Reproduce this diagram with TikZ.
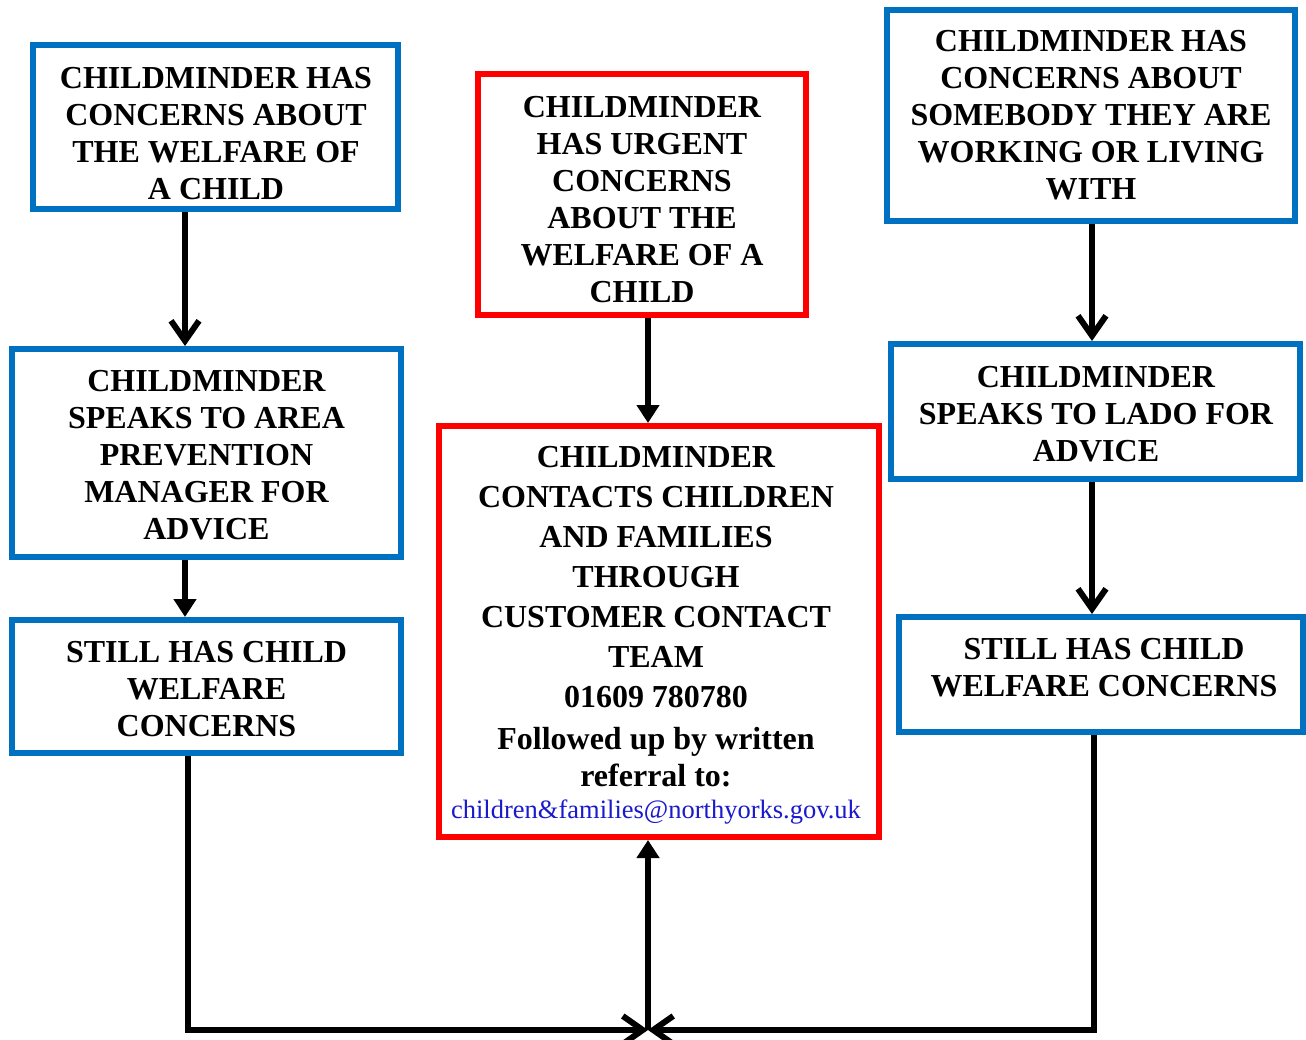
\documentclass[tikz,border=0pt]{standalone}
\usepackage{fontspec}
\setmainfont{Liberation Serif}
\usetikzlibrary{arrows.meta}
\definecolor{boxblue}{RGB}{0,112,192}
\definecolor{boxred}{RGB}{255,0,0}
\definecolor{mailblue}{RGB}{25,25,205}
\begin{document}
\begin{tikzpicture}[x=1pt,y=-1pt,
  bluebox/.style={draw=boxblue,line width=6pt,rectangle,inner sep=0pt},
  redbox/.style={draw=boxred,line width=6pt,rectangle,inner sep=0pt},
  txt/.style={align=center,inner sep=0pt,font=\bfseries\fontsize{32}{37}\selectfont},
  conn/.style={line width=6pt},
  chev/.style={conn,-{Straight Barb[length=20pt,width=28pt]}},
  tri/.style={conn,-{Triangle[length=18pt,width=22pt]}}]
\useasboundingbox (0,0) rectangle (1306,1040);
\fill[white] (0,0) rectangle (1306,1040);

% boxes
\node[bluebox,minimum width=365pt,minimum height=164pt] (b1) at (215.5,127) {};
\node[bluebox,minimum width=389pt,minimum height=208pt] (b2) at (206.5,453) {};
\node[bluebox,minimum width=389pt,minimum height=133pt] (b3) at (206.5,686.5) {};
\node[redbox,minimum width=328pt,minimum height=241pt] (r1) at (642,194.5) {};
\node[redbox,minimum width=440pt,minimum height=411pt] (r2) at (659,631.5) {};
\node[bluebox,minimum width=408pt,minimum height=211pt] (c1) at (1091,115.5) {};
\node[bluebox,minimum width=409pt,minimum height=135pt] (c2) at (1095.5,411.5) {};
\node[bluebox,minimum width=404pt,minimum height=115pt] (c3) at (1101,674.5) {};

% texts
\node[txt] (b1t) at (216,133.5) {CHILDMINDER HAS\\CONCERNS ABOUT\\THE WELFARE OF\\A CHILD};
\node[txt] (b2t) at (206.5,455.5) {CHILDMINDER\\SPEAKS TO AREA\\PREVENTION\\MANAGER FOR\\ADVICE};
\node[txt] (b3t) at (206.5,689) {STILL HAS CHILD\\WELFARE\\CONCERNS};
\node[txt] (r1t) at (642,199.5) {CHILDMINDER\\HAS URGENT\\CONCERNS\\ABOUT THE\\WELFARE OF A\\CHILD};
\node[txt,font=\bfseries\fontsize{32}{40}\selectfont] (r2t) at (656,635) {CHILDMINDER\\CONTACTS CHILDREN\\AND FAMILIES\\THROUGH\\CUSTOMER CONTACT\\TEAM\\01609 780780\\[2pt]Followed up by written\\[-3pt]referral to:\\[-8pt]{\mdseries\fontsize{26.5}{30}\selectfont\color{mailblue}children\&families@northyorks.gov.uk}};
\node[txt] (c1t) at (1091,115.5) {CHILDMINDER HAS\\CONCERNS ABOUT\\SOMEBODY THEY ARE\\WORKING OR LIVING\\WITH};
\node[txt] (c2t) at (1096,414.5) {CHILDMINDER\\SPEAKS TO LADO FOR\\ADVICE};
\node[txt] (c3t) at (1104,667.5) {STILL HAS CHILD\\WELFARE CONCERNS};

% connector guides
\coordinate (xl) at (185,0);
\coordinate (xlb) at (188,0);
\coordinate (xm) at (648,0);
\coordinate (xr) at (1092,0);
\coordinate (xrb) at (1094,0);
\coordinate (j) at (648,1030);

% connectors
\draw[chev] (b1.south -| xl) -- (b2.north -| xl);
\draw[tri] (b2.south -| xl) -- (b3.north -| xl);
\draw[tri] (r1.south -| xm) -- (r2.north -| xm);
\draw[chev] (c1.south -| xr) -- (c2.north -| xr);
\draw[chev] (c2.south -| xr) -- (c3.north -| xr);
\draw[chev] (b3.south -| xlb) |- (j);
\draw[chev] (c3.south -| xrb) |- (j);
\draw[tri] (j) -- (r2.south -| j);
\end{tikzpicture}
\end{document}
